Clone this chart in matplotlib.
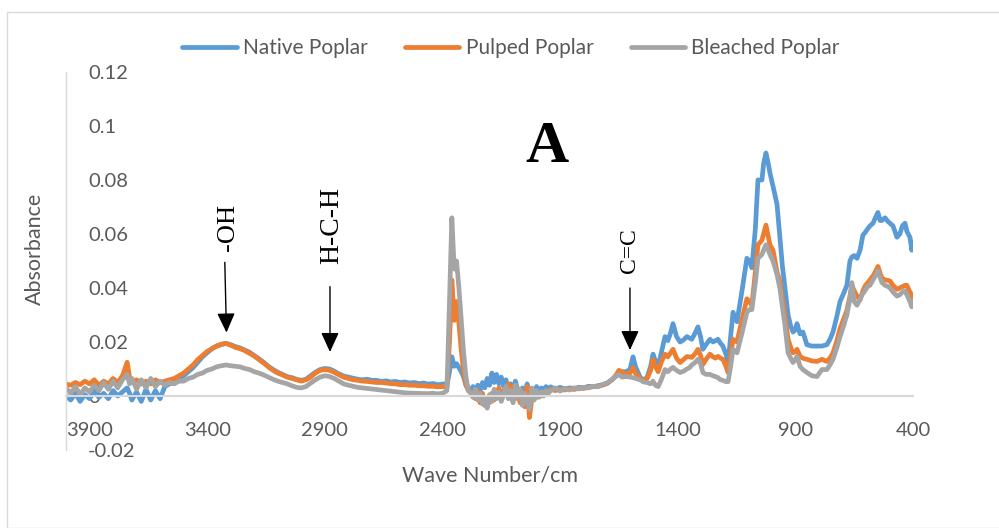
import matplotlib
matplotlib.use("Agg")
import matplotlib.pyplot as plt
import numpy as np

# ---------------- data ----------------
wavenumber = [
    4000, 3980, 3960, 3940, 3920, 3900, 3880, 3860, 3840, 3820, 3800, 3780, 3760, 3740, 3730,
    3720, 3700, 3680, 3660, 3640, 3620, 3600, 3580, 3560, 3540, 3520, 3500, 3480, 3460, 3440,
    3420, 3400, 3380, 3360, 3340, 3320, 3300, 3280, 3260, 3240, 3220, 3200, 3180, 3160, 3140,
    3120, 3100, 3080, 3060, 3040, 3020, 3000, 2980, 2960, 2940, 2920, 2900, 2880, 2860, 2840,
    2820, 2800, 2780, 2760, 2740, 2720, 2700, 2680, 2660, 2640, 2620, 2600, 2580, 2560, 2540,
    2520, 2500, 2480, 2460, 2440, 2420, 2400, 2390, 2381, 2370, 2360, 2350, 2340, 2330, 2320,
    2310, 2300, 2290, 2280, 2270, 2260, 2250, 2240, 2230, 2220, 2210, 2200, 2190, 2180, 2170,
    2160, 2150, 2140, 2130, 2120, 2110, 2100, 2090, 2080, 2070, 2060, 2050, 2040, 2030, 2020,
    2010, 2000, 1990, 1980, 1970, 1960, 1950, 1940, 1920, 1900, 1880, 1860, 1840, 1820, 1800,
    1780, 1760, 1740, 1720, 1700, 1680, 1667, 1650, 1637, 1620, 1603, 1590, 1580, 1560, 1545,
    1530, 1515, 1505, 1495, 1483, 1470, 1454, 1442, 1430, 1420, 1405, 1390, 1375, 1361, 1350,
    1340, 1325, 1314, 1303, 1293, 1280, 1263, 1250, 1240, 1229, 1218, 1208, 1195, 1186, 1175,
    1165, 1148, 1125, 1106, 1095, 1085, 1070, 1059, 1042, 1035, 1025, 1015, 1008, 995, 978,
    966, 955, 944, 931, 920, 910, 900, 893, 880, 868, 851, 830, 808, 787, 766,
    753, 740, 725, 710, 695, 681, 668, 660, 650, 638, 625, 613, 604, 592, 583,
    570, 560, 549, 540, 532, 519, 505, 498, 485, 468, 456, 445, 434, 426, 413,
    405, 400,
]

# absorbance values in units of 1e-3
native_poplar = [
    0.0, -1.5, 1.0, -2.0, 0.5, -1.0, 1.5, -0.5, 1.0, -1.0, 2.0, 0.0, 1.5, 3.0, 1.0,
    -1.5, 1.5, -2.0, 2.5, -1.5, 2.0, -1.0, 3.5, 4.5, 5.0, 6.5, 7.5, 9.0, 10.5, 12.5,
    14.5, 16.0, 17.5, 18.5, 19.0, 19.5, 19.0, 18.3, 17.8, 17.0, 16.2, 15.0, 13.8, 12.5, 11.0,
    9.8, 8.8, 8.0, 7.2, 6.8, 6.2, 5.8, 6.2, 7.5, 8.8, 9.8, 10.2, 10.0, 9.2, 8.2,
    7.4, 7.0, 6.6, 6.2, 6.0, 6.2, 5.8, 5.8, 5.4, 5.6, 5.2, 5.4, 5.0, 5.2, 4.8,
    5.0, 4.6, 4.8, 4.4, 4.6, 4.2, 4.4, 4.5, 4.0, 9.0, 14.5, 11.0, 12.0, 10.5, 9.0,
    7.0, 4.0, 3.0, 2.0, 3.5, 1.0, 4.0, 2.0, 5.0, 3.0, 6.5, 4.0, 8.5, 5.0, 8.0,
    4.5, 7.0, 3.5, 6.0, 2.5, 4.5, 1.0, 5.5, 2.0, -1.5, 3.0, 0.5, 4.5, -2.0, 2.5,
    0.0, 3.5, 1.0, 3.0, 2.0, 3.5, 2.5, 3.4, 2.5, 3.2, 2.6, 3.0, 2.8, 3.2, 3.0,
    3.6, 3.4, 3.8, 4.2, 4.8, 6.0, 7.2, 8.2, 9.0, 9.0, 9.8, 14.5, 11.0, 7.0, 5.8,
    7.0, 11.0, 15.5, 13.0, 11.0, 16.0, 22.0, 20.5, 23.5, 26.8, 22.0, 20.0, 20.8, 22.0, 21.5,
    21.0, 23.5, 25.6, 22.0, 17.3, 19.0, 21.0, 20.0, 20.5, 21.0, 19.5, 18.5, 15.5, 12.4, 22.0,
    31.0, 27.5, 40.0, 51.0, 50.0, 47.5, 62.0, 80.0, 80.0, 86.0, 90.0, 86.0, 82.6, 77.7, 71.0,
    58.8, 48.0, 40.0, 30.0, 26.0, 23.7, 24.5, 26.8, 23.0, 23.7, 19.0, 18.5, 18.5, 18.5, 19.0,
    21.0, 23.7, 29.0, 35.0, 38.0, 41.0, 50.0, 51.5, 52.0, 51.0, 54.0, 59.6, 60.5, 62.0, 63.0,
    64.0, 66.0, 68.0, 65.0, 65.0, 66.0, 64.5, 64.0, 63.0, 58.8, 60.0, 63.0, 64.0, 61.0, 58.8,
    54.0, 57.0,
]

pulped_poplar = [
    4.5, 4.0, 5.0, 4.2, 5.5, 4.5, 6.0, 4.0, 5.5, 4.5, 6.5, 5.0, 7.5, 12.5, 7.0,
    5.0, 6.0, 4.5, 5.5, 4.5, 6.0, 5.0, 5.5, 6.0, 6.5, 7.5, 8.5, 10.0, 11.5, 13.5,
    15.0, 16.5, 17.5, 18.5, 19.2, 19.5, 18.8, 18.0, 17.5, 16.8, 15.8, 14.8, 13.5, 12.2, 10.8,
    9.5, 8.5, 7.8, 7.0, 6.5, 6.0, 5.5, 6.0, 7.0, 8.5, 9.5, 9.8, 9.5, 8.8, 7.8,
    7.0, 6.5, 6.0, 5.8, 5.5, 5.4, 5.2, 5.0, 5.0, 4.8, 4.6, 4.5, 4.2, 4.2, 4.0,
    4.0, 3.8, 3.8, 3.6, 3.6, 3.4, 3.5, 3.6, 3.0, 20.0, 43.0, 28.0, 35.0, 27.0, 17.0,
    9.0, 4.0, 2.0, 1.5, 0.5, -1.0, 2.0, -2.5, 1.0, -3.5, -1.0, -2.5, 1.0, -1.5, 0.5,
    3.0, -1.5, 2.0, 0.5, 4.5, 1.0, 3.5, -1.0, 2.0, -2.5, 1.5, -4.0, 3.5, -8.0, -1.0,
    2.0, -0.5, 1.0, 0.0, 1.5, 1.0, 2.0, 2.5, 2.0, 2.6, 2.2, 2.8, 2.4, 3.0, 2.8,
    3.2, 3.5, 3.6, 4.0, 4.6, 6.0, 7.0, 9.5, 9.0, 8.0, 8.5, 10.5, 8.5, 6.5, 5.6,
    6.5, 9.5, 13.5, 11.0, 9.0, 12.5, 15.5, 14.5, 16.0, 17.3, 14.0, 12.4, 13.5, 14.6, 14.5,
    14.3, 15.8, 17.3, 15.0, 11.7, 13.5, 15.5, 14.5, 14.0, 14.7, 14.0, 13.6, 11.0, 8.7, 15.0,
    21.0, 20.0, 29.0, 36.0, 35.0, 33.5, 46.0, 56.0, 57.7, 60.0, 63.3, 59.0, 56.0, 54.0, 46.0,
    42.6, 36.0, 30.0, 21.0, 18.0, 16.0, 16.5, 17.3, 14.7, 14.0, 13.6, 13.0, 12.8, 13.6, 12.8,
    14.0, 16.0, 20.0, 25.0, 28.5, 31.7, 37.0, 41.0, 39.0, 37.0, 35.5, 39.0, 40.7, 42.0, 43.0,
    44.5, 46.0, 48.0, 45.5, 43.7, 43.0, 42.8, 42.6, 41.0, 39.5, 40.0, 40.5, 41.0, 41.0, 38.5,
    37.4, 33.6,
]

bleached_poplar = [
    3.0, 1.0, 3.5, 0.5, 3.0, 1.5, 4.0, 2.0, 5.0, 2.5, 5.5, 3.0, 6.0, 8.0, 4.5,
    6.5, 2.5, 6.0, 3.0, 6.5, 3.5, 5.5, 4.0, 5.0, 4.5, 5.5, 5.5, 6.5, 7.0, 8.0,
    8.5, 9.5, 10.0, 10.8, 11.2, 11.5, 11.2, 11.0, 10.8, 10.2, 9.8, 9.0, 8.5, 7.8, 7.0,
    6.2, 5.5, 5.0, 4.5, 3.8, 3.2, 3.0, 3.5, 4.8, 6.0, 7.0, 7.5, 7.2, 6.5, 5.5,
    4.5, 4.0, 3.6, 3.2, 3.0, 2.8, 2.6, 2.4, 2.2, 2.0, 1.8, 1.6, 1.4, 1.2, 1.1,
    1.0, 1.0, 0.9, 0.9, 1.0, 0.8, 1.0, 1.5, 2.0, 35.0, 66.0, 47.0, 50.0, 40.0, 28.0,
    16.0, 7.0, 2.0, 1.0, -0.5, 2.5, -1.5, 1.0, -3.0, -1.0, -4.5, 0.5, -2.0, 2.5, -1.0,
    1.5, -2.0, 0.5, 3.5, -1.0, 2.0, -2.5, 4.0, -0.5, 2.5, -3.5, 1.0, -2.0, -5.0, 3.0,
    -1.5, 2.0, -0.5, 1.5, 0.0, 2.0, 1.0, 2.0, 3.0, 1.8, 2.8, 2.2, 3.0, 2.6, 3.2,
    3.0, 3.6, 3.4, 4.2, 4.8, 6.0, 7.0, 8.0, 7.0, 7.2, 7.0, 6.8, 6.5, 6.0, 5.2,
    5.0, 4.5, 5.5, 4.0, 3.5, 6.0, 9.8, 9.0, 10.0, 10.6, 9.5, 8.7, 9.2, 10.0, 10.5,
    11.5, 12.5, 13.6, 12.0, 8.7, 8.0, 8.0, 7.5, 7.2, 6.8, 6.0, 5.8, 5.3, 5.3, 11.0,
    17.3, 16.0, 24.0, 31.0, 32.0, 32.0, 42.0, 51.0, 52.4, 54.0, 56.0, 54.0, 52.4, 50.0, 45.0,
    40.0, 33.0, 26.0, 16.0, 14.0, 12.4, 13.5, 14.7, 11.0, 9.8, 8.7, 7.5, 7.2, 9.8, 9.8,
    11.5, 13.6, 17.5, 22.0, 26.0, 30.0, 36.0, 42.0, 35.0, 33.6, 36.0, 38.0, 39.0, 40.7, 41.0,
    43.0, 44.5, 46.4, 44.0, 42.0, 41.0, 40.5, 40.0, 38.5, 37.0, 37.5, 38.5, 39.0, 37.5, 35.0,
    33.0, 35.5,
]

series_names = ["Native Poplar", "Pulped Poplar", "Bleached Poplar"]
series_colors = ["#5B9BD5", "#ED7D31", "#A5A5A5"]

x_ticks = [3900, 3400, 2900, 2400, 1900, 1400, 900, 400]
x_ticklabels = ["3900", "3400", "2900", "2400", "1900", "1400", "900", "400"]
y_ticks = [-0.02, 0, 0.02, 0.04, 0.06, 0.08, 0.1, 0.12]
y_ticklabels = ["-0.02", "0", "0.02", "0.04", "0.06", "0.08", "0.1", "0.12"]

annotations = [
    # label, arrow tip (wn, abs), arrow tail (wn, abs), text centre (wn, abs), fontsize
    ("-OH", (3318, 0.0235), (3325, 0.0495), (3311, 0.0625), 19),
    ("H-C-H", (2878, 0.0163), (2878, 0.0405), (2870, 0.0633), 20),
    ("C=C", (1603, 0.0170), (1603, 0.0400), (1603, 0.0540), 17),
]

# ---------------- plot ----------------
TXT = "#595959"
plt.rcParams["font.family"] = ["Lato", "DejaVu Sans"]

fig = plt.figure(figsize=(9.99, 5.28), dpi=100)
ax = fig.add_axes([66 / 999, 78 / 528, 847 / 999, 378 / 528])

wn = np.array(wavenumber, dtype=float)
for name, vals, col in zip(series_names, [native_poplar, pulped_poplar, bleached_poplar], series_colors):
    ax.plot(wn, np.array(vals) / 1000.0, color=col, lw=3.4, label=name,
            solid_joinstyle="round", solid_capstyle="round")

ax.set_xlim(4000, 400)
ax.set_ylim(-0.02, 0.12)

ax.set_xticks(x_ticks)
ax.set_xticklabels(x_ticklabels)
ax.set_yticks(y_ticks)
ax.set_yticklabels(y_ticklabels)

for s in ["top", "right"]:
    ax.spines[s].set_visible(False)
ax.spines["left"].set_color("#D9D9D9")
ax.spines["left"].set_linewidth(1.0)
ax.spines["bottom"].set_position(("data", 0))
ax.spines["bottom"].set_color("#D9D9D9")
ax.spines["bottom"].set_linewidth(1.5)

ax.tick_params(axis="x", length=0, pad=19, labelsize=14.5, labelcolor=TXT)
ax.tick_params(axis="y", length=0, pad=-16, labelsize=14.5, labelcolor=TXT)
for lbl in ax.get_yticklabels():
    lbl.set_horizontalalignment("left")

ax.set_xlabel("Wave Number/cm", fontsize=15.5, color=TXT, labelpad=0)
ax.xaxis.set_label_coords((490 - 66) / 847, (456 - 472) / 378)
ax.set_ylabel("Absorbance", fontsize=15.5, color=TXT)
ax.yaxis.set_label_coords((45 - 66) / 847, (456 - 255) / 378)

fig.text(547 / 999, 1 - 148 / 528, "A", fontsize=43, fontweight="bold",
         family="Liberation Serif", ha="center", va="center", color="black")

for label, tip, tail, tpos, fs in annotations:
    ax.annotate("", xy=tip, xytext=tail,
                arrowprops=dict(arrowstyle="-|>,head_length=1.2,head_width=0.55",
                                color="black", lw=1.0, shrinkA=0, shrinkB=0))
    ax.text(tpos[0], tpos[1], label, rotation=90, fontsize=fs,
            family="Liberation Serif", ha="center", va="center", color="black")

handles, labels = ax.get_legend_handles_labels()
fig.legend(handles, labels, loc="center", bbox_to_anchor=(511 / 999, 1 - 48 / 528),
           ncol=3, frameon=False, fontsize=15, labelcolor=TXT,
           handlelength=2.6, handletextpad=0.3, columnspacing=1.8)

# chart-area border
fig.patches.append(plt.Rectangle((7 / 999, 0.0), 1.2, 1 - 12 / 528,
                                 transform=fig.transFigure, fill=False,
                                 edgecolor="#D9D9D9", lw=1.0))

fig.savefig("out.png", dpi=100)
